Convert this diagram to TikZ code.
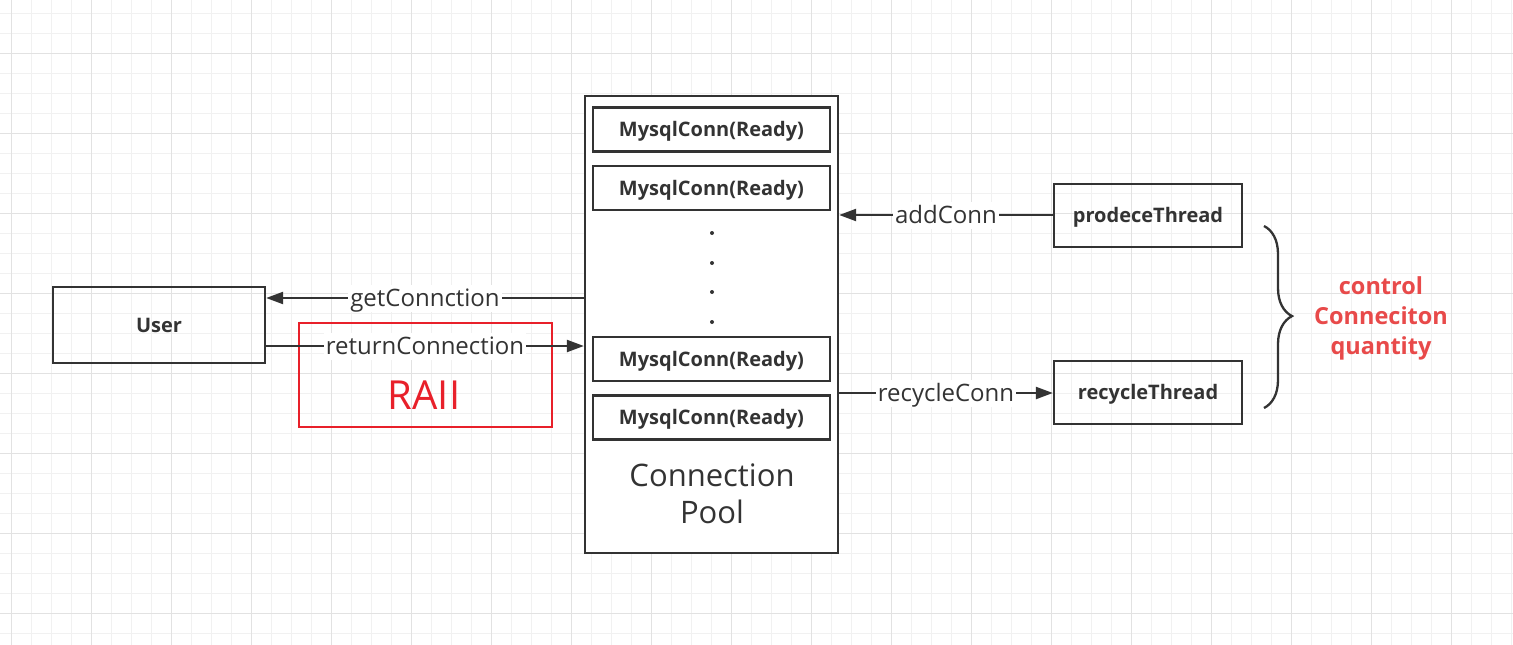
\documentclass[tikz,border=0pt]{standalone}
\usepackage{fontspec}
\setmainfont{Open Sans}
\usetikzlibrary{arrows.meta,decorations.pathreplacing}
\definecolor{ink}{HTML}{333333}
\definecolor{gridminor}{HTML}{F1F1F1}
\definecolor{gridmajor}{HTML}{E2E2E2}
\definecolor{raiired}{HTML}{E8202A}
\definecolor{notered}{HTML}{E84A4A}
\tikzset{
  box/.style={draw=ink, line width=2.3pt, rectangle, inner sep=0pt, text=ink, text height=14.5pt, text depth=0pt, font=\fontsize{20}{23}\selectfont\bfseries},
  connbox/.style={box, minimum width=237pt, minimum height=44pt},
  thrbox/.style={box, minimum width=188pt, minimum height=63pt},
  arr/.style={draw=ink, line width=2.3pt, -{Triangle[length=17pt,width=12pt]}},
  lbl/.style={fill=white, text=ink, inner sep=2pt, text height=20pt, text depth=3pt, font=\fontsize{24}{27}\selectfont},
  dotmark/.style={circle, fill=ink, inner sep=0pt, minimum size=4pt},
}
\begin{document}
\begin{tikzpicture}[x=1pt,y=-1pt]
\useasboundingbox (0,0) rectangle (1513,645);
\fill[white] (0,0) rectangle (1513,645);
% grid
\foreach \i in {0,...,75} {
  \draw[gridminor, line width=1pt] ({11+20*\i},0) -- ({11+20*\i},645);
}
\foreach \j in {0,...,32} {
  \draw[gridminor, line width=1pt] (0,{13.33+20*\j}) -- (1513,{13.33+20*\j});
}
\foreach \i in {0,...,18} {
  \draw[gridmajor, line width=1pt] ({11+80*\i},0) -- ({11+80*\i},645);
}
\foreach \j in {0,...,7} {
  \draw[gridmajor, line width=1pt] (0,{53.33+80*\j}) -- (1513,{53.33+80*\j});
}
% pool
\node[draw=ink, line width=2.3pt, fill=white, minimum width=253pt, minimum height=457pt, inner sep=0pt] (pool) at (711.5,324.5) {};
\node[connbox] (c1) at (711.5,129.5) {MysqlConn(Ready)};
\node[connbox] (c2) at (711.5,188) {MysqlConn(Ready)};
\node[connbox] (c3) at (711.5,359) {MysqlConn(Ready)};
\node[connbox] (c4) at (711.5,417.5) {MysqlConn(Ready)};
\node[dotmark] (d1) at (712,233) {};
\node[dotmark] (d2) at (712,263) {};
\node[dotmark] (d3) at (712,292) {};
\node[dotmark] (d4) at (712,322) {};
\node[text=ink, align=center, font=\fontsize{31}{37}\selectfont] (pooltxt) at (712,494) {Connection\\Pool};
% user
\node[box, minimum width=212pt, minimum height=76pt] (user) at (159,325) {User};
% RAII
\node[draw=raiired, line width=1.3pt, minimum width=253pt, minimum height=104pt, inner sep=0pt] (raii) at (425.5,375) {};
\node[text=raiired, font=\fontsize{40}{44}\selectfont] (raiitxt) at (424,395) {RAII};
% threads
\node[thrbox] (prod) at (1148,215.5) {prodeceThread};
\node[thrbox] (recy) at (1148,392.5) {recycleThread};
% connectors
\coordinate (gety) at (0,298);
\coordinate (rety) at (0,346);
\coordinate (addy) at (0,215);
\coordinate (recy0) at (0,393);
\draw[arr] (pool.west |- gety) -- node[lbl] {getConnction} (user.east |- gety);
\draw[arr] (user.east |- rety) -- node[lbl] {returnConnection} (pool.west |- rety);
\draw[arr] (prod.west |- addy) -- node[lbl] {addConn} (pool.east |- addy);
\draw[arr] (pool.east |- recy0) -- node[lbl] {recycleConn} (recy.west |- recy0);
% brace
\coordinate (brtop) at (1264,226);
\coordinate (brbot) at (1264,408);
\draw[ink, line width=2.3pt, decorate, decoration={brace, amplitude=28pt, aspect=0.495}] (brtop) -- (brbot);
\node[text=notered, align=center, font=\fontsize{23.5}{30}\selectfont\bfseries] (note) at (1381,318) {control\\Conneciton\\quantity};
\end{tikzpicture}
\end{document}
